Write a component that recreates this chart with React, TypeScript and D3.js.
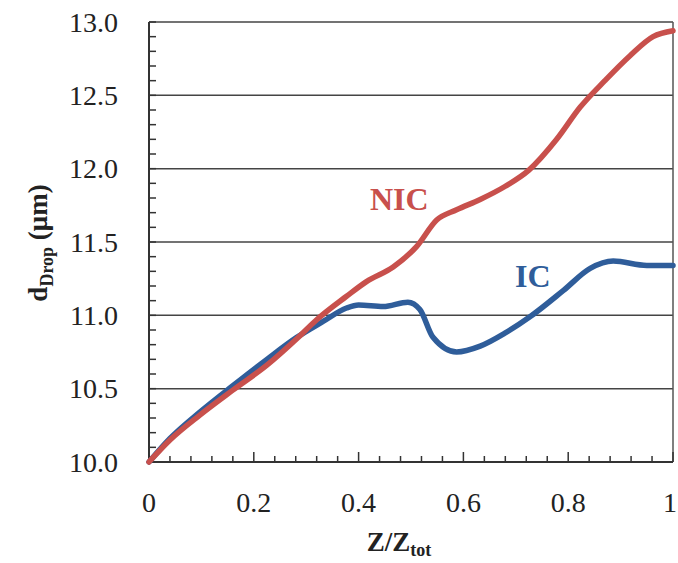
import React from "react";
import * as d3 from "d3";

const nicX = [0, 0.04, 0.097, 0.16, 0.225, 0.282, 0.32, 0.377, 0.415, 0.466, 0.511, 0.549, 0.587, 0.632, 0.68, 0.725, 0.778, 0.823, 0.87, 0.918, 0.962, 1.0];
const nicY = [10.0, 10.15, 10.32, 10.49, 10.66, 10.84, 10.97, 11.13, 11.23, 11.33, 11.47, 11.65, 11.72, 11.79, 11.88, 11.99, 12.2, 12.42, 12.6, 12.77, 12.9, 12.94];
const icX = [0, 0.04, 0.097, 0.16, 0.225, 0.282, 0.333, 0.377, 0.4, 0.447, 0.494, 0.517, 0.542, 0.587, 0.632, 0.68, 0.727, 0.791, 0.842, 0.886, 0.95, 1.0];
const icY = [10.0, 10.16, 10.34, 10.52, 10.7, 10.85, 10.96, 11.05, 11.07, 11.06, 11.09, 11.04, 10.85, 10.75, 10.79, 10.88, 10.99, 11.17, 11.32, 11.37, 11.34, 11.34];
const xTicks = [0, 0.2, 0.4, 0.6, 0.8, 1];
const xTickLabels = ["0", "0.2", "0.4", "0.6", "0.8", "1"];
const yTicks = [10.0, 10.5, 11.0, 11.5, 12.0, 12.5, 13.0];

const W = 678, H = 563;
const L = 149, R = 673, T = 22, B = 462;
const font = "Liberation Serif, Tinos, DejaVu Serif, serif";

export default function App() {
  const x = d3.scaleLinear().domain([0, 1]).range([L, R]);
  const y = d3.scaleLinear().domain([10, 13]).range([B, T]);
  const line = d3.line<[number, number]>().x(d => x(d[0])).y(d => y(d[1])).curve(d3.curveMonotoneX);
  const nic = nicX.map((v, i) => [v, nicY[i]] as [number, number]);
  const ic = icX.map((v, i) => [v, icY[i]] as [number, number]);
  const yMinor = d3.range(0, 31).map(i => 10 + i * 0.1);
  const xMinor = d3.range(0, 26).map(i => i * 0.04);
  return (
    <svg width={W} height={H} style={{ position: "absolute", left: 0, top: 0, background: "#fff" }}>
      <rect x={0} y={0} width={W} height={H} fill="#fff" />
      {yTicks.slice(1).map(t => (
        <line key={"g" + t} x1={L} x2={R} y1={y(t)} y2={y(t)} stroke="#444" strokeWidth={1.5} />
      ))}
      <line x1={R} x2={R} y1={T} y2={B} stroke="#555" strokeWidth={1.5} />
      {yMinor.map((t, i) => (
        <line key={"ym" + i} x1={L} x2={L + 7} y1={y(t)} y2={y(t)} stroke="#333" strokeWidth={1.5} />
      ))}
      {xMinor.map((t, i) => (
        <line key={"xm" + i} x1={x(t)} x2={x(t)} y1={B} y2={B - (i % 5 === 0 ? 10 : 6)} stroke="#333" strokeWidth={1.5} />
      ))}
      <line x1={L} x2={L} y1={T} y2={B} stroke="#333" strokeWidth={2} />
      <line x1={L} x2={R} y1={B} y2={B} stroke="#333" strokeWidth={2} />
      <path d={line(ic) || ""} fill="none" stroke="#2f5d9a" strokeWidth={5.5} strokeLinecap="round" strokeLinejoin="round" />
      <path d={line(nic) || ""} fill="none" stroke="#c8504c" strokeWidth={5.5} strokeLinecap="round" strokeLinejoin="round" />
      {yTicks.map(t => (
        <text key={"yl" + t} x={118} y={y(t)} dy="0.35em" textAnchor="end" fontFamily={font} fontSize={28} fill="#222">
          {t.toFixed(1)}
        </text>
      ))}
      {xTicks.map((t, i) => (
        <text key={"xl" + t} x={Math.min(x(t), 670)} y={512} textAnchor="middle" fontFamily={font} fontSize={28} fill="#222">
          {xTickLabels[i]}
        </text>
      ))}
      <text x={399} y={551} textAnchor="middle" fontFamily={font} fontSize={27} fontWeight="bold" fill="#222">
        Z/Z<tspan fontSize={18} dy={5}>tot</tspan>
      </text>
      <text transform={`translate(47,${243}) rotate(-90)`} textAnchor="middle" fontFamily={font} fontSize={27} fontWeight="bold" fill="#222">
        d<tspan fontSize={18} dy={6}>Drop</tspan><tspan dy={-6}> (μm)</tspan>
      </text>
      <text x={370} y={210} fontFamily={font} fontSize={32} fontWeight="bold" fill="#c8504c">NIC</text>
      <text x={515} y={287} fontFamily={font} fontSize={32} fontWeight="bold" fill="#2f5d9a">IC</text>
    </svg>
  );
}
